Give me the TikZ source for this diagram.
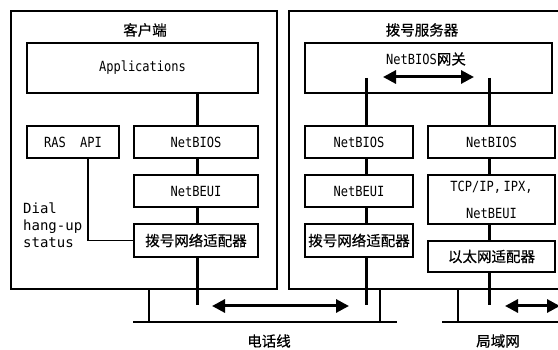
\documentclass[tikz,border=0pt]{standalone}
\usepackage{fontspec}
\setmainfont{DejaVu Sans Mono}[FakeStretch=0.86]
\newfontfamily\widemono{DejaVu Sans Mono}
\newfontfamily\cjk{Noto Sans CJK SC}[FakeBold=0.6]
\usetikzlibrary{arrows.meta,backgrounds}
\begin{document}
\begin{tikzpicture}[x=1pt,y=-1pt,
  box/.style={draw,line width=1.3pt,fill=white,inner sep=0pt,font=\fontsize{14}{16}\selectfont},
  frame/.style={line width=1.1pt},
  stack/.style={line width=3pt},
  thinln/.style={line width=1.1pt},
  dbl/.style={line width=3pt,{Triangle[length=13pt,width=13pt]}-{Triangle[length=13pt,width=13pt]}},
  cn/.style={font=\cjk\fontsize{14.5}{16}\selectfont},
  lbl/.style={font=\widemono\fontsize{14}{17}\selectfont,align=left,inner sep=0pt}]
\useasboundingbox (0,0) rectangle (558,350);
\begin{scope}
\clip (0,0) rectangle (558,350);
% outer frames
\draw[frame] (11,11) rectangle (277,289);
\draw[frame] (289,11) rectangle (570,289);
% titles
\node[cn] (ctitle) at (145,30) {客户端};
\node[cn] (stitle) at (422,30) {拨号服务器};
% client boxes
\node[box,minimum width=231pt,minimum height=50pt] (app) at (142.5,68) {Applications};
\node[box,minimum width=92pt,minimum height=32pt] (ras) at (73,142) {RAS\ \ API};
\node[box,minimum width=124pt,minimum height=32pt] (cnb) at (196,142) {NetBIOS};
\node[box,minimum width=124pt,minimum height=32pt] (cbeui) at (196,191) {NetBEUI};
\node[box,minimum width=124pt,minimum height=33pt,cn] (cadp) at (196,240.5) {拨号网络适配器};
\node[lbl,anchor=north west] (dial) at (23,203) {Dial\\hang-up\\status};
% server boxes
\node[box,fill=none,minimum width=247pt,minimum height=50pt] (gw) at (428.5,68) {};
\node[anchor=center,inner sep=0pt] (gwt) at (426,59) {\fontsize{14}{16}\selectfont NetBIOS{\cjk\fontsize{14.5}{16}\selectfont 网关}};
\node[box,minimum width=108pt,minimum height=32pt] (snb1) at (359,142) {NetBIOS};
\node[box,minimum width=127pt,minimum height=32pt] (snb2) at (491.5,142) {NetBIOS};
\node[box,minimum width=108pt,minimum height=32pt] (sbeui) at (359,191) {NetBEUI};
\node[box,minimum width=108pt,minimum height=33pt,cn] (sadp) at (359,240.5) {\hspace*{-3pt}拨号网络适配器\hspace*{-3pt}};
\node[box,minimum width=127pt,minimum height=49pt,align=center] (stcp) at (491.5,199.5) {TCP/IP,\,IPX,\\[11pt]NetBEUI};
\node[box,minimum width=127pt,minimum height=31pt,cn] (seth) at (491.5,256.5) {以太网适配器};
% coordinates
\coordinate (cbot) at (197,305);
\coordinate (sltop) at (366,78);
\coordinate (slbot) at (366,305);
\coordinate (srtop) at (489,78);
\coordinate (srbot) at (489,305);
\coordinate (lbusL) at (133,322);
\coordinate (lbusR) at (397,322);
\coordinate (rbusL) at (442,322);
\coordinate (rbusR) at (570,322);
% stack lines behind boxes
\begin{scope}[on background layer]
\draw[stack] (app.south -| cbot) -- (cbot);
\draw[stack] (sltop) -- (slbot);
\draw[stack] (srtop) -- (srbot);
\end{scope}
% RAS API line
\draw[thinln] ([xshift=15pt]ras.south) |- (cadp.west);
% gateway arrow
\draw[dbl] (383,77) -- (474,77);
% buses
\draw[thinln] (lbusL) -- (lbusR);
\draw[thinln] (149,289) -- (149,322);
\draw[thinln] (380,289) -- (380,322);
\draw[thinln] (rbusL) -- (rbusR);
\draw[thinln] (458,289) -- (458,322);
% link arrows
\draw[dbl] (212,306) -- (349,306);
\draw[dbl] (505,306) -- (560,306);
% labels
\node[cn] (tel) at (269,341) {电话线};
\node[cn] (lan) at (498,341) {局域网};
\end{scope}
\end{tikzpicture}
\end{document}
